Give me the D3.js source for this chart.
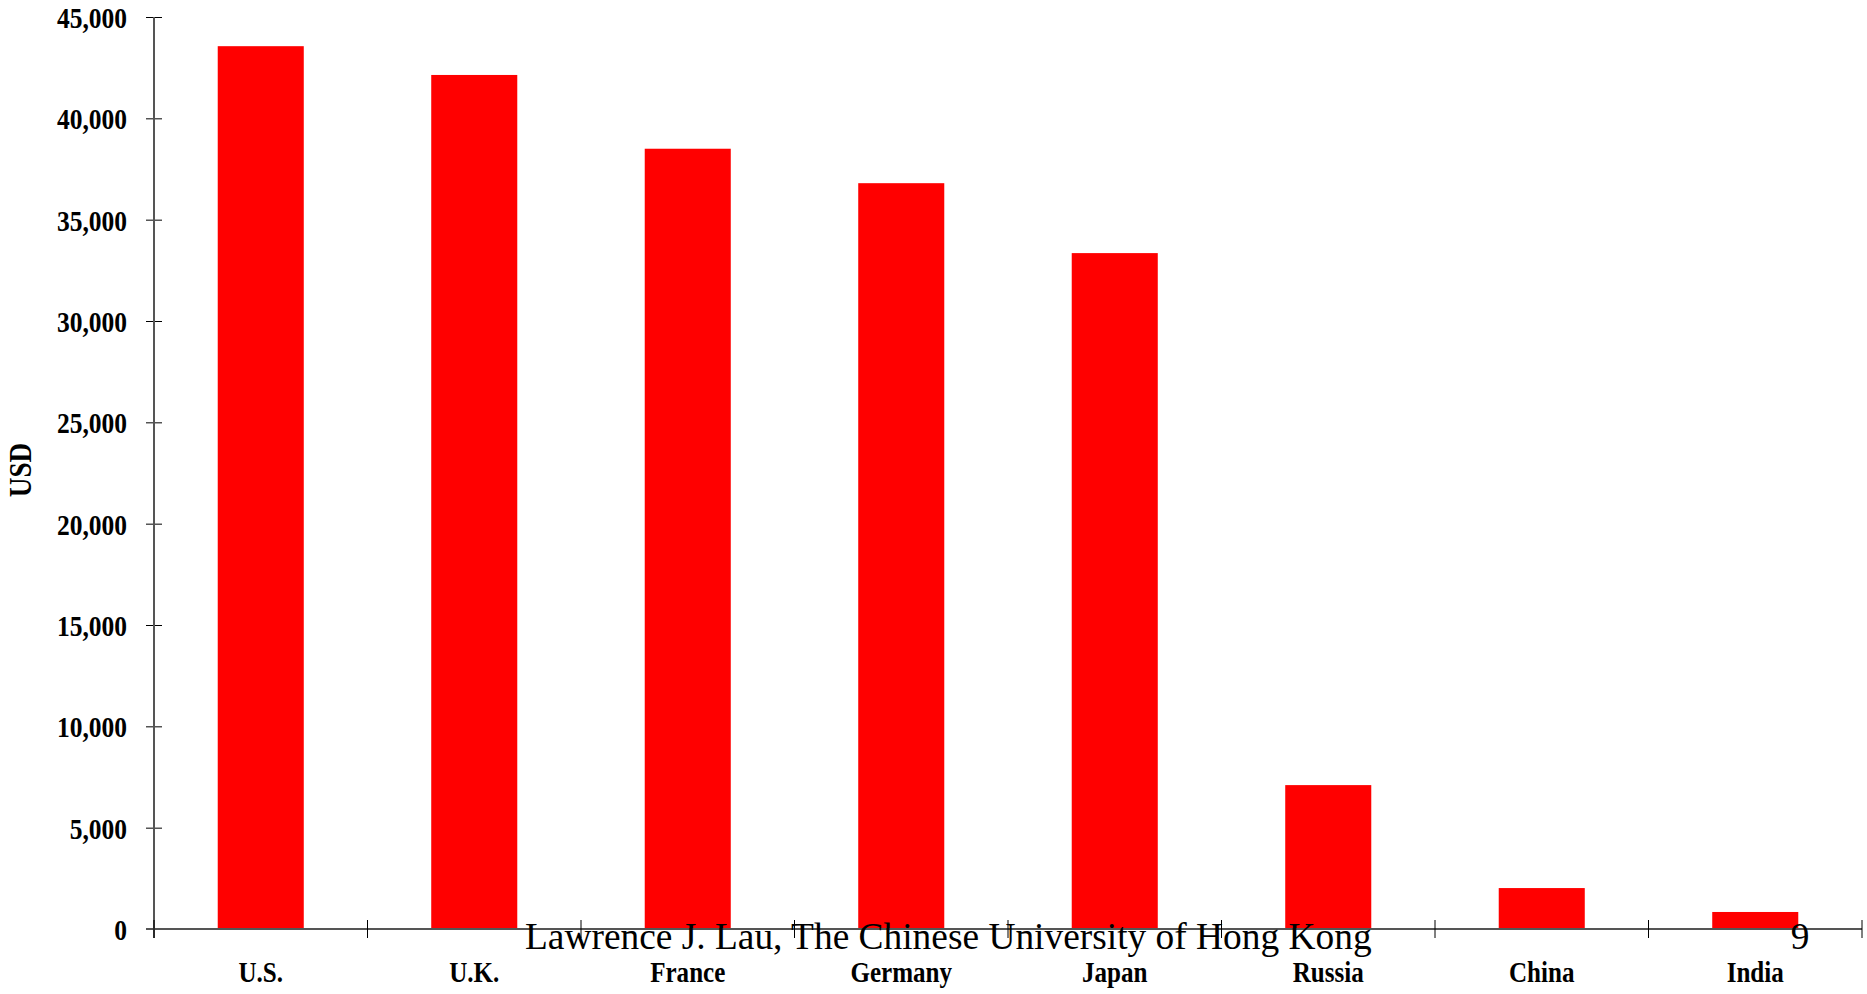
<!DOCTYPE html>
<html>
<head>
<meta charset="utf-8">
<script src="https://cdn.jsdelivr.net/npm/d3@7"></script>
<style>
  body { margin: 0; background: #fff; }
  text { font-family: "Liberation Serif", "Times New Roman", serif; }
</style>
</head>
<body>
<div id="chart"></div>
<script>
var countries = ['U.S.', 'U.K.', 'France', 'Germany', 'Japan', 'Russia', 'China', 'India'];
var gdpPerCapita = [43560, 42140, 38500, 36800, 33350, 7100, 2020, 840];
var yTicks = [0, 5000, 10000, 15000, 20000, 25000, 30000, 35000, 40000, 45000];
var yLabel = 'USD';
var footer = 'Lawrence J. Lau, The Chinese University of Hong Kong';
var pageNum = '9';

var width = 1867, height = 994;
// note: "top" is taken by window.top, so plotTop etc.
var plotLeft = 154, plotRight = 1862, plotTop = 17, plotBottom = 929;
var squeeze = 0.85;

var svg = d3.select('#chart').append('svg')
            .attr('width', width)
            .attr('height', height);

var x = d3.scaleBand()
          .domain(countries)
          .range([plotLeft, plotRight])
          .paddingInner(0.597)
          .paddingOuter(0.2985);

// plain band scale, used for the tick marks between categories
var xCell = d3.scaleBand()
              .domain(countries)
              .range([plotLeft, plotRight])
              .padding(0);

var y = d3.scaleLinear()
          .domain([0, 45000])
          .range([plotBottom, plotTop]);

// bars
svg.selectAll('rect.bar')
   .data(gdpPerCapita)
   .enter()
   .append('rect')
   .attr('class', 'bar')
   .attr('x', function (d, i) { return x(countries[i]); })
   .attr('y', function (d) { return y(d); })
   .attr('width', x.bandwidth())
   .attr('height', function (d) { return y(0) - y(d); })
   .style('fill', '#ff0000');

// y axis
var yAxis = svg.append('g')
               .attr('transform', 'translate(' + plotLeft + ',0)')
               .call(d3.axisLeft(y).tickValues(yTicks).tickSize(8).tickPadding(19)
                       .tickFormat(d3.format(',')));
yAxis.select('.domain').remove();
yAxis.selectAll('.tick line').attr('x1', -8).attr('x2', 8).attr('stroke', '#000');
yAxis.selectAll('.tick text')
     .attr('font-size', 30)
     .attr('font-weight', 'bold')
     .attr('fill', '#000')
     .attr('dy', '0.35em')
     .attr('transform', function () {
         var t = d3.select(this);
         return 'translate(' + (+t.attr('x')) * (1 - squeeze) + ',0) scale(' + squeeze + ',1)';
     });

svg.append('line')
   .attr('x1', plotLeft).attr('x2', plotLeft)
   .attr('y1', y(45000)).attr('y2', plotBottom + 9)
   .attr('stroke', '#555')
   .attr('stroke-width', 2);

// x axis line + boundary ticks
svg.append('line')
   .attr('x1', plotLeft - 8).attr('x2', plotRight)
   .attr('y1', plotBottom).attr('y2', plotBottom)
   .attr('stroke', '#555')
   .attr('stroke-width', 2);

var bounds = countries.map(function (c) { return xCell(c); }).concat([plotRight]);
svg.selectAll('line.xtick')
   .data(bounds)
   .enter()
   .append('line')
   .attr('class', 'xtick')
   .attr('x1', function (d) { return d; })
   .attr('x2', function (d) { return d; })
   .attr('y1', plotBottom - 9)
   .attr('y2', plotBottom + 9)
   .attr('stroke', '#000')
   .attr('stroke-width', 1);

svg.selectAll('text.cat')
   .data(countries)
   .enter()
   .append('text')
   .attr('class', 'cat')
   .attr('transform', function (d) {
       return 'translate(' + (xCell(d) + xCell.bandwidth() / 2) + ',' + 982 + ') scale(' + squeeze + ',1)';
   })
   .attr('text-anchor', 'middle')
   .attr('font-size', 29.5)
   .attr('font-weight', 'bold')
   .text(function (d) { return d; });

// axis title
svg.append('text')
   .attr('transform', 'translate(31,' + 470 + ') rotate(-90) scale(' + squeeze + ',1)')
   .attr('text-anchor', 'middle')
   .attr('font-size', 32)
   .attr('font-weight', 'bold')
   .text(yLabel);

// slide footer
svg.append('text')
   .attr('x', 525)
   .attr('y', 949)
   .attr('font-size', 37.4)
   .text(footer);

svg.append('text')
   .attr('x', 1800)
   .attr('y', 949)
   .attr('text-anchor', 'middle')
   .attr('font-size', 37.4)
   .text(pageNum);
</script>
</body>
</html>
